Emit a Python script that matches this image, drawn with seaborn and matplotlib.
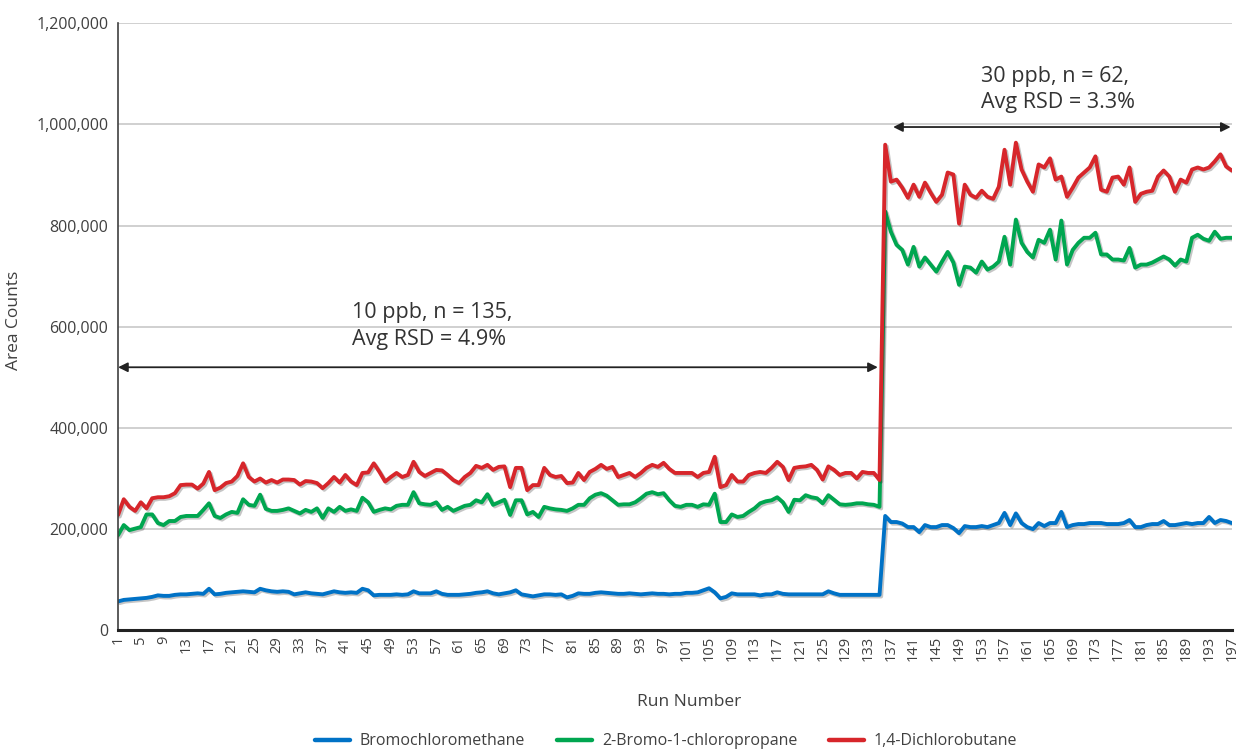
import numpy as np
import pandas as pd
import matplotlib
matplotlib.use("Agg")
import matplotlib.pyplot as plt
import matplotlib.patheffects as pe
from matplotlib.ticker import FuncFormatter
import seaborn as sns

# ── data (area counts in thousands) ────────────────────────────────────────
runs = list(range(1, 198))

blue_10 = [57, 60, 61, 62, 63, 64, 66, 69, 68, 68, 70, 71, 71, 72, 73, 72, 82, 71, 72, 74,
           75, 76, 77, 76, 75, 82, 79, 77, 76, 77, 76, 71, 73, 75,
           73, 72, 71, 74, 77, 75, 74, 75, 74, 82, 79, 69, 70, 70, 70, 71, 70, 71, 77, 73,
           73, 73, 77, 72, 70, 70, 70, 71, 72, 74, 75, 77, 73,
           71, 73, 75, 79, 71, 69, 67, 69, 71, 71, 70, 71, 65, 68, 73, 72, 72, 74, 75, 74,
           73, 72, 72, 73, 72, 71, 72, 73, 72, 72, 71, 72, 72,
           74, 74, 75, 79, 83, 75, 63, 66, 73, 71, 71, 71, 71, 69, 71, 71, 75, 72, 71, 71,
           71, 71, 71, 71, 71, 77, 73, 70, 70, 70, 70, 70, 70, 70, 70]
blue_30 = [226, 214, 214, 211, 204, 204, 194, 208, 204, 204, 208, 208, 202, 192, 206, 204,
           204, 206, 204, 208, 212, 232, 208, 231, 212, 204, 200, 212, 206, 212, 212, 234,
           204, 208, 210, 210, 212, 212, 212, 210, 210, 210, 212, 218, 204, 204, 208, 210,
           210, 216, 208, 208, 210, 212, 210, 212, 212, 224, 212, 218, 216, 212]

green_10 = [188, 208, 198, 201, 204, 229, 229, 212, 208, 216, 216, 224, 226, 226, 226, 238,
            251, 226, 222, 229, 234, 232, 259, 248, 246, 268, 240, 236, 236, 238, 241, 236,
            231, 238,
            234, 241, 222, 241, 234, 244, 236, 239, 236, 262, 253, 234, 238, 241, 239, 246,
            248, 248, 273, 251, 249, 248, 253, 238, 244, 236, 241, 246, 248, 257, 253, 269, 248,
            253, 258, 228, 257, 257, 229, 234, 224, 244, 241, 239, 238, 236, 241, 248, 248,
            261, 268, 271, 266, 257, 248, 249, 249, 253, 261, 270, 273, 269, 271, 257, 246, 244,
            248, 248, 244, 249, 248, 270, 214, 214, 229, 224, 226, 234, 241, 251, 255, 257,
            263, 253, 234, 258, 257, 267, 263, 261, 251, 267, 258, 249, 248, 249, 251, 251,
            249, 248, 244]
green_30 = [828, 788, 762, 752, 723, 758, 719, 737, 723, 709, 729, 748, 727, 683, 719, 717,
            707, 729, 713, 719, 729, 778, 723, 812, 766, 748, 737, 772, 766, 792, 733, 810,
            723, 752, 766, 776, 776, 786, 743, 743, 733, 733, 731, 756, 717, 723, 723, 727,
            733, 739, 733, 721, 733, 729, 776, 782, 774, 770, 788, 774, 776, 776]

red_10 = [228, 259, 244, 236, 253, 241, 261, 263, 263, 265, 271, 287, 288, 288, 280, 290,
          313, 277, 282, 291, 294, 305, 330, 303, 294, 300, 292, 297, 292, 298, 298, 297,
          288, 295,
          294, 291, 281, 291, 303, 292, 307, 294, 287, 311, 312, 330, 313, 294, 303, 311,
          303, 307, 333, 313, 305, 311, 317, 316, 307, 297, 291, 303, 311, 325, 321, 327, 317,
          323, 324, 283, 321, 321, 277, 287, 287, 321, 307, 303, 305, 291, 292, 311, 297,
          313, 319, 327, 319, 323, 303, 307, 311, 303, 311, 321, 327, 323, 331, 319, 311, 311,
          311, 311, 303, 311, 313, 343, 283, 287, 307, 294, 294, 307, 311, 313, 311, 321,
          333, 323, 297, 321, 323, 324, 327, 317, 298, 324, 317, 307, 311, 311, 300, 313,
          311, 311, 297]
red_30 = [960, 887, 891, 875, 855, 881, 857, 885, 865, 847, 861, 905, 901, 804, 881, 861,
          855, 869, 857, 853, 877, 950, 881, 964, 911, 887, 867, 921, 915, 933, 891, 897,
          857, 875, 895, 905, 915, 937, 871, 867, 895, 897, 881, 915, 847, 863, 867, 869,
          897, 909, 897, 867, 891, 885, 911, 915, 911, 915, 927, 941, 917, 909]

series_names = ["Bromochloromethane", "2-Bromo-1-chloropropane", "1,4-Dichlorobutane"]
colors = ["#0072C6", "#00A650", "#D7262B"]

df = pd.DataFrame({
    "run": runs,
    series_names[0]: np.array(blue_10 + blue_30) * 1000,
    series_names[1]: np.array(green_10 + green_30) * 1000,
    series_names[2]: np.array(red_10 + red_30) * 1000,
})
long = df.melt(id_vars="run", var_name="compound", value_name="area")

# ── plot ────────────────────────────────────────────────────────────────────
sns.set_theme(style="white")
plt.rcParams["font.family"] = ["Open Sans", "DejaVu Sans"]

fig = plt.figure(figsize=(12.43, 7.53), dpi=100)
ax = fig.add_axes([0.095, 0.163, 0.896, 0.806])

sns.lineplot(data=long, x="run", y="area", hue="compound", hue_order=series_names,
             palette=colors, linewidth=2.8, ax=ax, legend=False)
for line in ax.lines:
    line.set_path_effects([pe.SimpleLineShadow(offset=(1.2, -1.2), alpha=0.25),
                           pe.Normal()])

ax.set_xlim(1, 197)
ax.set_ylim(0, 1200000)
ax.set_yticks(range(0, 1200001, 200000))
ax.yaxis.set_major_formatter(FuncFormatter(lambda v, p: f"{int(v):,}"))
ax.set_xticks(runs[::4])
ax.tick_params(axis="x", rotation=90, labelsize=10.5, length=0, pad=4, colors="#404040")
ax.tick_params(axis="y", labelsize=11.5, length=0, pad=7, colors="#404040")
ax.yaxis.grid(True, color="#C8C8C8", linewidth=1.2)
ax.xaxis.grid(False)

for side in ["top", "right"]:
    ax.spines[side].set_visible(False)
ax.spines["left"].set_color("#404040")
ax.spines["left"].set_linewidth(1.2)
ax.spines["bottom"].set_color("#222222")
ax.spines["bottom"].set_linewidth(2.2)

ax.set_xlabel("Run Number", fontsize=12.5, color="#404040", labelpad=20)
ax.xaxis.set_label_coords(0.513, -0.105)
ax.set_ylabel("Area Counts", fontsize=12.5, color="#404040")
ax.yaxis.set_label_coords(-0.086, 0.51)

# concentration annotations
arrow = dict(arrowstyle="<|-|>", color="#222222", lw=1.3, mutation_scale=14,
             shrinkA=0, shrinkB=0)
ax.annotate("", xy=(1, 520000), xytext=(134.7, 520000), arrowprops=arrow)
ax.annotate("", xy=(137.4, 995000), xytext=(196.8, 995000), arrowprops=arrow)
ax.text(42.2, 555000, "10 ppb, n = 135,\nAvg RSD = 4.9%", fontsize=15.5,
        color="#333333", ha="left", va="bottom", linespacing=1.35)
ax.text(152.8, 1022000, "30 ppb, n = 62,\nAvg RSD = 3.3%", fontsize=15.5,
        color="#333333", ha="left", va="bottom", linespacing=1.35)

handles = [plt.Line2D([], [], color=c, linewidth=3.2) for c in colors]
fig.legend(handles, series_names, loc="lower center", bbox_to_anchor=(0.536, -0.014),
           ncol=3, frameon=False, fontsize=11.5, handlelength=2.2, handletextpad=0.6,
           columnspacing=2.0, labelcolor="#404040")

fig.savefig("out.png", dpi=100)
